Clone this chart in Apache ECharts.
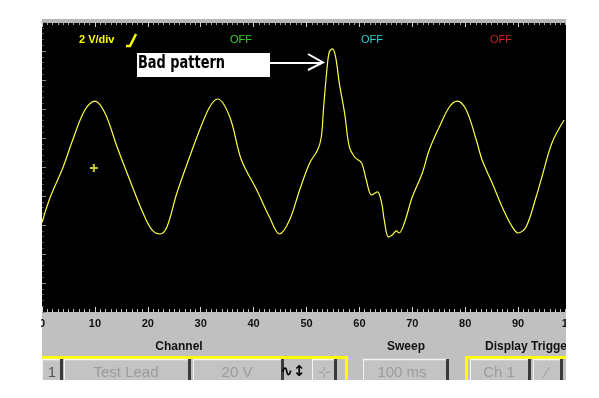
<!DOCTYPE html>
<html><head><meta charset="utf-8">
<script src="https://cdn.jsdelivr.net/npm/echarts@6/dist/echarts.min.js"></script>
<style>html,body{margin:0;padding:0;background:#fff}#c{width:599px;height:398px}</style>
</head><body><div id="c"></div>
<script>
// time axis (horizontal divisions) and trace voltage (2 V/div)
const timeMs = [0,1.5,4.0,5.8,8.1,10.0,11.9,14.2,16.6,19.1,20.8,22.3,23.6,25.5,27.9,29.8,31.7,33.2,35.5,37.7,40.6,43.0,44.9,46.8,48.7,50.6,52.1,52.8,53.2,53.8,54.3,54.9,55.5,56.2,57.2,58.1,59.1,60.4,61.3,62.3,63.4,64.2,64.7,65.5,66.2,67.0,67.5,68.5,70.0,71.9,73.2,75.1,77.0,78.5,80.2,82.1,83.2,85.1,87.0,88.7,90.0,91.5,93.4,94.5,96.4,98.7];
const volts = [-3.84,-2.14,0,1.86,3.93,4.55,3.72,1.38,-0.90,-3.17,-4.34,-4.62,-4.14,-1.79,0.69,2.55,4.14,4.69,3.45,0.48,-1.59,-3.45,-4.62,-3.66,-1.59,0.28,1.17,2.07,3.93,6.48,7.93,8.14,7.59,5.79,3.72,1.38,0.69,0.28,-0.90,-1.93,-1.72,-2.48,-3.66,-4.83,-4.69,-4.41,-4.55,-3.86,-2.07,-0.41,1.17,2.76,4.14,4.55,3.93,1.86,0.48,-1.10,-2.76,-4.0,-4.55,-4.14,-2.07,-0.69,1.66,3.24];
const xTickLabels = ['0','10','20','30','40','50','60','70','80','90','100'];
const groundMarkerX = [9.8];
const groundMarkerY = [-0.07];
const scaleText = '2 V/div';
const channelStates = ['OFF','OFF','OFF'];
const annotationText = 'Bad pattern';
const panelTitles = ['Channel','Sweep','Display Trigger'];
const buttonLabels = ['1','Test Lead','20 V','100 ms','Ch 1'];

const trace = timeMs.map((t,i)=>[t, volts[i]]);
const marker = groundMarkerX.map((t,i)=>[t, groundMarkerY[i]]);

const chart = echarts.init(document.getElementById('c'), null, {renderer:'canvas'});
const btnFont = '15px "Liberation Sans", Arial, sans-serif';
function button(x, w, label, cx, color){
  return [
    {type:'rect', shape:{x:x, y:359, width:w, height:24}, style:{fill:'#c3c3c3', stroke:null}, z:5},
    {type:'line', shape:{x1:x, y1:359.5, x2:x+w, y2:359.5}, style:{stroke:'#f4f4f4', lineWidth:1.5}, z:6},
    {type:'line', shape:{x1:x+0.5, y1:359, x2:x+0.5, y2:383}, style:{stroke:'#f4f4f4', lineWidth:1}, z:6},
    {type:'rect', shape:{x:x+w-2, y:359, width:3, height:24}, style:{fill:'#3a3a3a'}, z:6},
    {type:'text', x:cx, y:373, style:{text:label, font:btnFont, fill:color||'#9c9c9c', align:'center', verticalAlign:'middle', textShadowColor:'#eeeeee', textShadowOffsetX:1, textShadowOffsetY:1, textShadowBlur:0}, z:7}
  ];
}
// annotation font: heavy, squeezed to the reference's width
const annFont = 'bold 17px "DejaVu Sans", sans-serif';
const mctx = document.createElement('canvas').getContext('2d');
mctx.font = annFont;
const annScale = 87 / mctx.measureText(annotationText).width;

const titleFont = 'bold 12px "Liberation Sans", Arial, sans-serif';
const graphics = [
  // grey control panel
  {type:'rect', shape:{x:42, y:312, width:530, height:68}, style:{fill:'#c0c0c0'}, z:-1},
  // top border bar
  {type:'rect', shape:{x:42, y:19, width:530, height:3}, style:{fill:'#b8b8b8'}, z:-1},
  // header texts
  {type:'text', x:79, y:40, style:{text:scaleText, font:'bold 11px "Liberation Sans", Arial, sans-serif', fill:'#ffff00', verticalAlign:'middle'}, z:10},
  {type:'polyline', shape:{points:[[126,46],[130,46],[136,34]]}, style:{stroke:'#ffff00', lineWidth:2.5, fill:null}, z:10},
  {type:'text', x:241, y:40, style:{text:channelStates[0], font:'11px "Liberation Sans", Arial, sans-serif', fill:'#33cc33', align:'center', verticalAlign:'middle'}, z:10},
  {type:'text', x:372, y:40, style:{text:channelStates[1], font:'11px "Liberation Sans", Arial, sans-serif', fill:'#33cccc', align:'center', verticalAlign:'middle'}, z:10},
  {type:'text', x:501, y:40, style:{text:channelStates[2], font:'11px "Liberation Sans", Arial, sans-serif', fill:'#d02020', align:'center', verticalAlign:'middle'}, z:10},
  // annotation
  {type:'rect', shape:{x:137, y:53, width:133, height:24}, style:{fill:'#ffffff'}, z:10},
  {type:'text', x:138, y:64, scaleX:annScale, originX:0, originY:0, style:{text:annotationText, font:annFont, fill:'#000', verticalAlign:'middle'}, z:11},
  {type:'line', shape:{x1:270, y1:63, x2:322, y2:63}, style:{stroke:'#fff', lineWidth:2}, z:10},
  {type:'polyline', shape:{points:[[308,54],[323,62.5],[308,70]]}, style:{stroke:'#fff', lineWidth:2, fill:null}, z:10},
  // panel titles
  {type:'text', x:179, y:347, style:{text:panelTitles[0], font:titleFont, fill:'#111', align:'center', verticalAlign:'middle'}, z:5},
  {type:'text', x:406, y:347, style:{text:panelTitles[1], font:titleFont, fill:'#111', align:'center', verticalAlign:'middle'}, z:5},
  {type:'text', x:485, y:347, style:{text:panelTitles[2], font:titleFont, fill:'#111', verticalAlign:'middle'}, z:5},
  // yellow separator
  {type:'rect', shape:{x:42, y:356, width:306, height:3}, style:{fill:'#ffff00'}, z:5},
  {type:'rect', shape:{x:345, y:356, width:3, height:27}, style:{fill:'#ffff00'}, z:6},
  {type:'rect', shape:{x:465, y:356, width:110, height:3}, style:{fill:'#ffff00'}, z:5},
  {type:'rect', shape:{x:465, y:356, width:3, height:27}, style:{fill:'#ffff00'}, z:6},
  ...button(42, 20, buttonLabels[0], 52, '#555'),
  ...button(64, 126, buttonLabels[1], 126),
  ...button(193, 90, buttonLabels[2], 237),
  {type:'text', x:293, y:372, style:{text:'∿↕', font:'bold 15px "DejaVu Sans", sans-serif', fill:'#000', align:'center', verticalAlign:'middle'}, z:7},
  ...button(312, 24, '⊹', 324),
  ...button(363, 85, buttonLabels[3], 402),
  ...button(470, 60, buttonLabels[4], 499),
  ...button(533, 29, '⁄', 547),
  // crop masks
  {type:'rect', shape:{x:566, y:0, width:40, height:398}, style:{fill:'#fff'}, z:100},
  {type:'rect', shape:{x:0, y:312, width:41, height:30}, style:{fill:'#fff'}, z:100},
  {type:'rect', shape:{x:0, y:380, width:599, height:18}, style:{fill:'#fff'}, z:100}
];

chart.setOption({
  animation:false,
  backgroundColor:'#ffffff',
  grid:{left:42, top:22, width:529, height:290, show:true, backgroundColor:'#000', borderWidth:0},
  xAxis:[{
    type:'value', min:0, max:100, interval:10, position:'bottom',
    axisLine:{show:true, onZero:false, lineStyle:{color:'#c0c0c0', width:1}},
    axisTick:{show:true, inside:true, length:5, lineStyle:{color:'#d8d8d8'}},
    minorTick:{show:true, splitNumber:10, length:3, lineStyle:{color:'#bdbdbd'}},
    splitLine:{show:false},
    axisLabel:{color:'#111', fontWeight:'bold', fontSize:11, margin:6, fontFamily:'"Liberation Sans", Arial, sans-serif',
      formatter:(v)=>xTickLabels[Math.round(v/10)]}
  },{
    type:'value', min:0, max:100, interval:10, position:'top',
    axisLine:{show:true, onZero:false, lineStyle:{color:'#b8b8b8', width:2}},
    axisTick:{show:true, inside:true, length:5, lineStyle:{color:'#d0d0d0'}},
    minorTick:{show:true, splitNumber:10, length:3, lineStyle:{color:'#a8a8a8'}},
    splitLine:{show:false}, axisLabel:{show:false}
  }],
  yAxis:{
    type:'value', min:-10, max:10, interval:2,
    axisLine:{show:false, onZero:false},
    axisTick:{show:true, inside:true, length:4, lineStyle:{color:'#8a8a8a'}},
    minorTick:{show:true, splitNumber:5, length:2, lineStyle:{color:'#555'}},
    splitLine:{show:false}, axisLabel:{show:false}
  },
  series:[{
    type:'line', data:trace, showSymbol:false, smooth:0.35,
    lineStyle:{color:'#ffff40', width:1.2}, z:3
  },{
    type:'scatter', data:marker, symbol:'path://M3,0H5V3H8V5H5V8H3V5H0V3H3Z', symbolSize:8,
    itemStyle:{color:'#ffff40'}, z:4
  }],
  graphic:graphics
});
</script></body></html>
